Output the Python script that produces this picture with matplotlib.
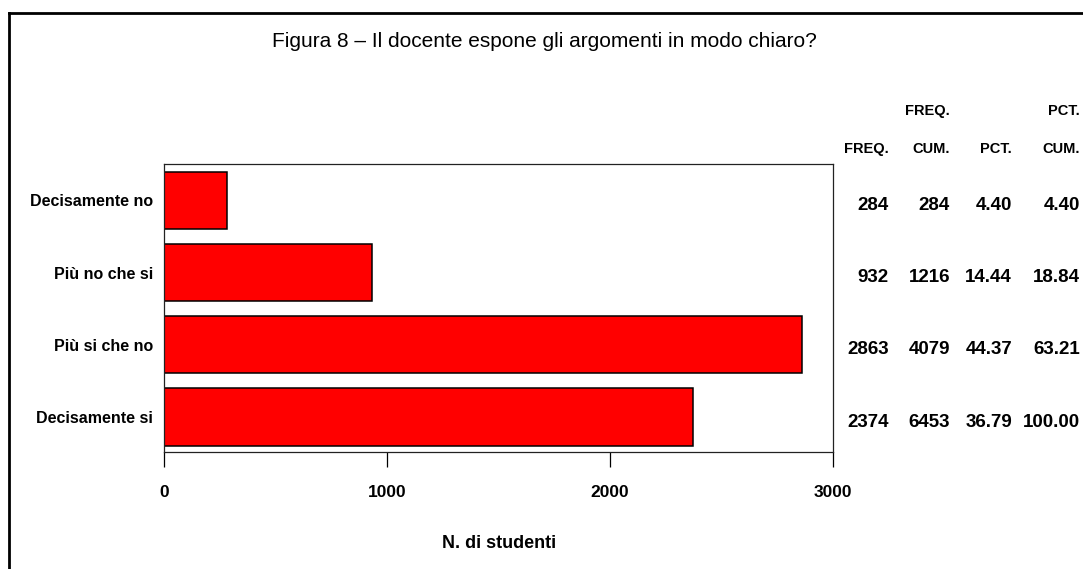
import matplotlib
matplotlib.use("Agg")
import matplotlib.pyplot as plt
from matplotlib.lines import Line2D
from matplotlib.transforms import blended_transform_factory

categories = ["Decisamente no", "Più no che si", "Più si che no", "Decisamente si"]
freq = [284, 932, 2863, 2374]
freq_cum = [284, 1216, 4079, 6453]
pct = ["4.40", "14.44", "44.37", "36.79"]
pct_cum = ["4.40", "18.84", "63.21", "100.00"]
xticks = [0, 1000, 2000, 3000]

title = "Figura 8 \u2013 Il docente espone gli argomenti in modo chiaro?"
xlabel = "N. di studenti"

W, H = 1083, 569
plt.rcParams["font.family"] = ["Liberation Sans", "DejaVu Sans"]

fig = plt.figure(figsize=(W / 100, H / 100), dpi=100)
fig.patch.set_facecolor("white")

# plot box in pixel coords of the reference: x 164..833, y 164..452
ax = fig.add_axes([164 / W, 1 - 452 / H, (833 - 164) / W, (452 - 164) / H])

ypos = list(range(len(categories)))
ax.barh(ypos, freq, height=0.79, color="#ff0000", edgecolor="black", linewidth=1.1)
ax.set_xlim(0, 3000)
ax.set_ylim(3.485, -0.505)

ax.set_yticks(ypos)
ax.set_yticklabels(categories, fontsize=11.5, fontweight="bold")
ax.tick_params(axis="y", length=0, pad=8)
ax.set_xticks(xticks)
ax.set_xticklabels([str(t) for t in xticks], fontsize=12.5, fontweight="bold")
ax.tick_params(axis="x", direction="out", length=11, width=0.9, pad=13)
for s in ax.spines.values():
    s.set_linewidth(0.9)
    s.set_color("#222222")

fig.text(499 / W, 1 - 543 / H, xlabel, ha="center", va="center",
         fontsize=13, fontweight="bold")
fig.text(544 / W, 1 - 47 / H, title, ha="center", va="baseline", fontsize=15)

# statistics table on the right
tr = blended_transform_factory(fig.transFigure, ax.transData)
col_x = [889, 950, 1012, 1080]
head1 = ["", "FREQ.", "", "PCT."]
head2 = ["FREQ.", "CUM.", "PCT.", "CUM."]
for cx, h1, h2 in zip(col_x, head1, head2):
    fig.text(cx / W, 1 - 111 / H, h1, ha="right", va="center", fontsize=10.5, fontweight="bold")
    fig.text(cx / W, 1 - 149 / H, h2, ha="right", va="center", fontsize=10.5, fontweight="bold")

columns = [[str(v) for v in freq], [str(v) for v in freq_cum], pct, pct_cum]
for cx, col in zip(col_x, columns):
    for y, v in zip(ypos, col):
        ax.text(cx / W, y + 0.07, v, transform=tr, ha="right", va="center",
                fontsize=13.5, fontweight="bold", clip_on=False)

# page frame (top and left edges only visible)
fig.add_artist(Line2D([9 / W, 1.0], [1 - 13 / H, 1 - 13 / H], transform=fig.transFigure,
                      color="black", linewidth=2))
fig.add_artist(Line2D([9 / W, 9 / W], [0.0, 1 - 13 / H], transform=fig.transFigure,
                      color="black", linewidth=2))

fig.savefig("out.png", dpi=100)
